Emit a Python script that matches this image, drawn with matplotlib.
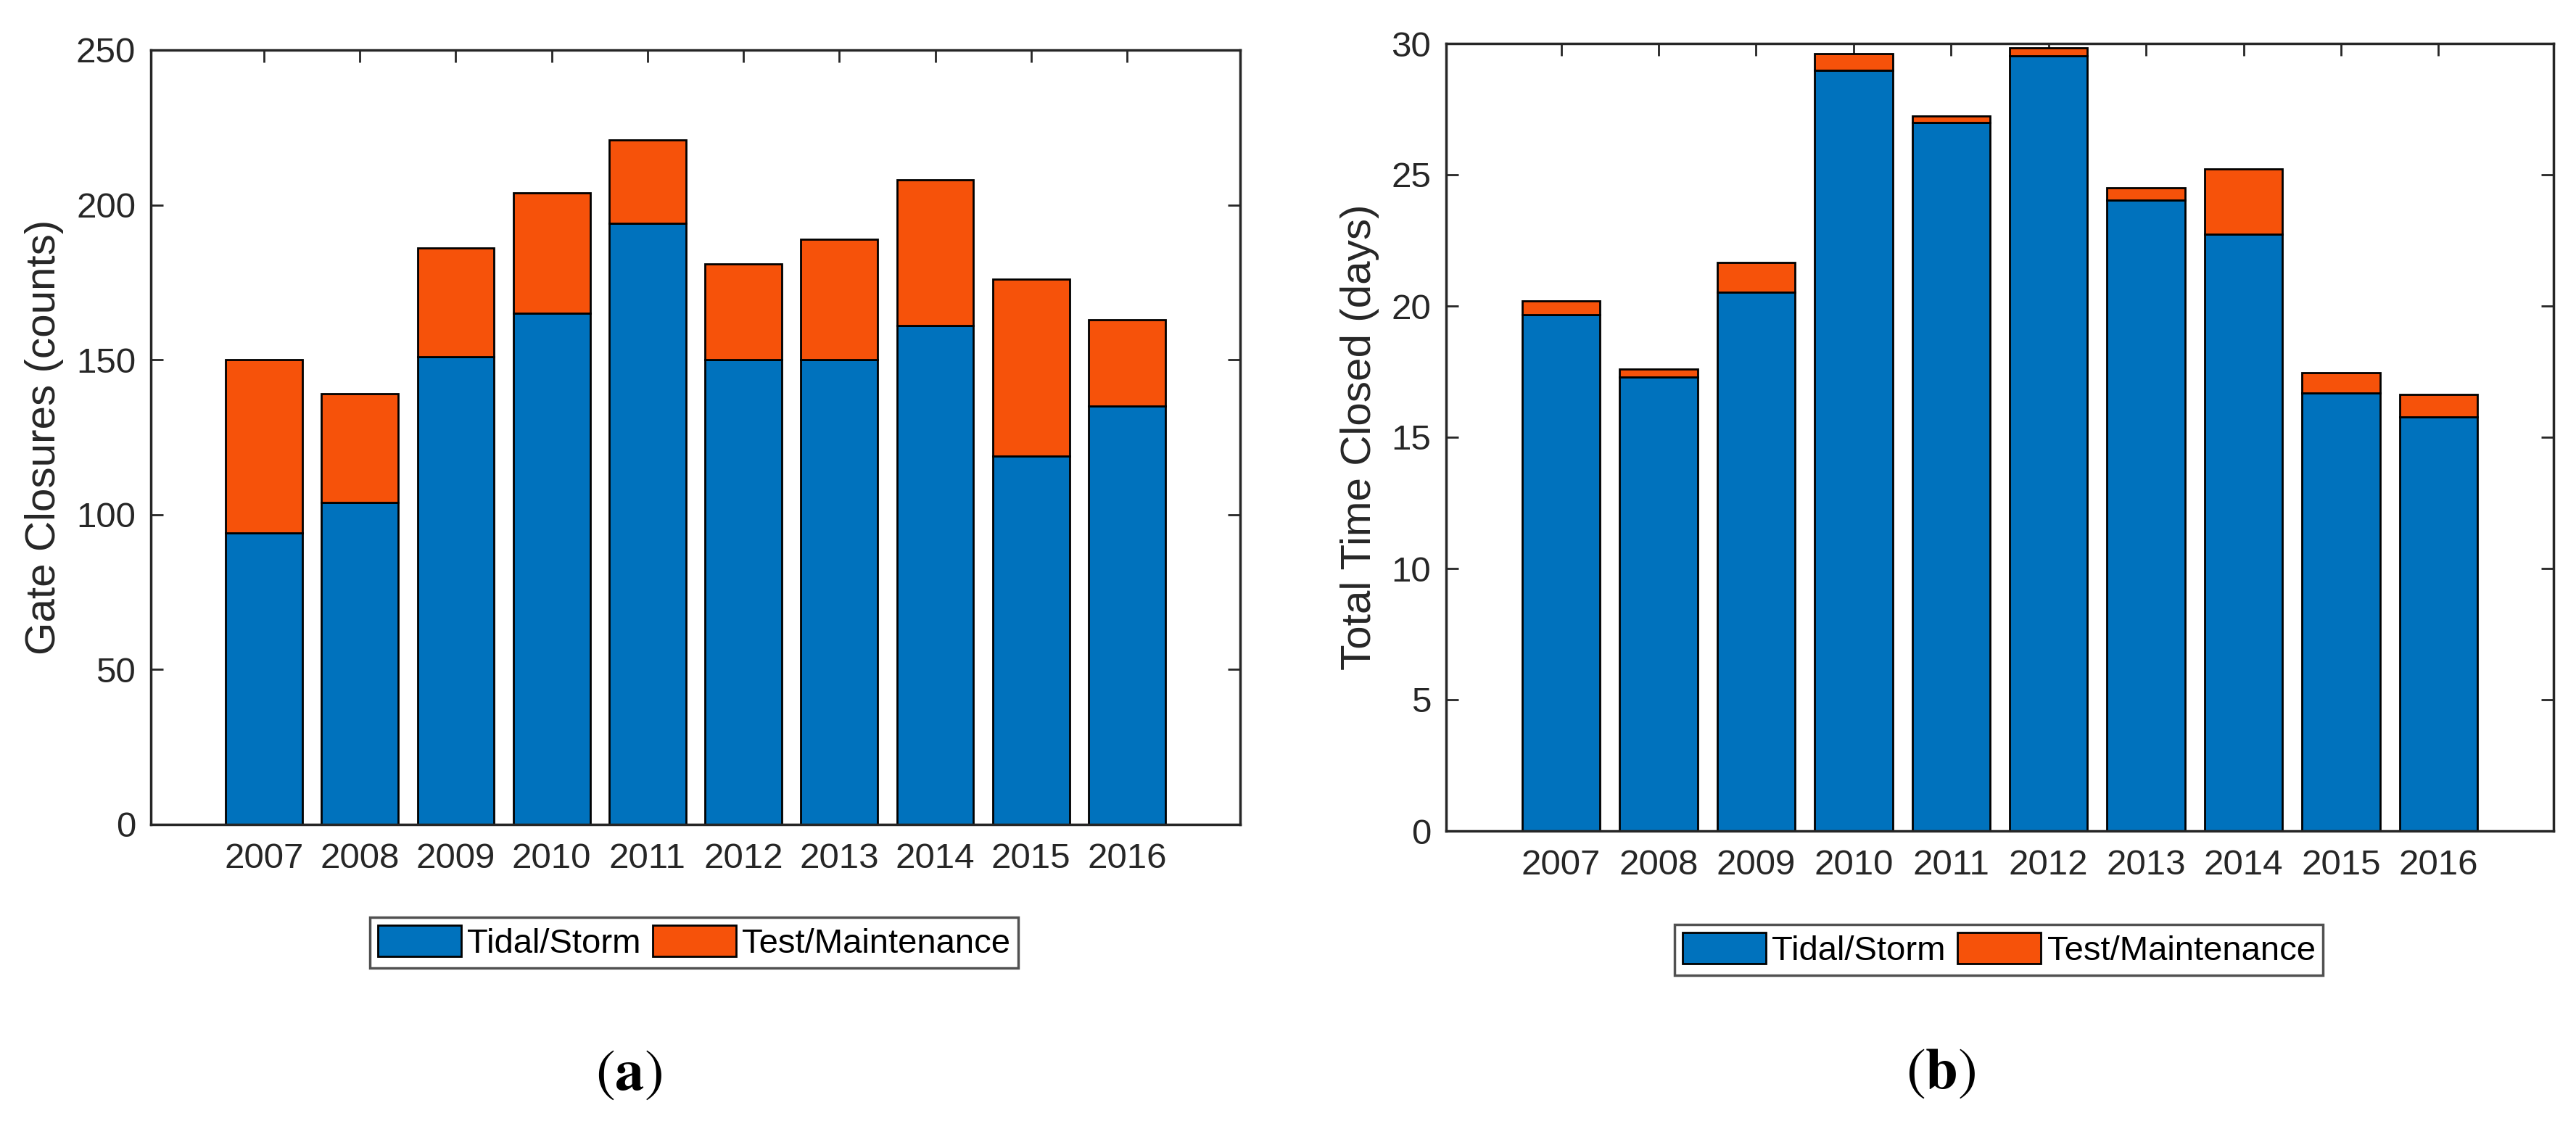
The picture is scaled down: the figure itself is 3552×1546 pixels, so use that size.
import matplotlib
matplotlib.use("Agg")
import matplotlib.pyplot as plt
import numpy as np

years = [2007, 2008, 2009, 2010, 2011, 2012, 2013, 2014, 2015, 2016]
# (a) gate closures (counts)
closures_tidal = [94, 104, 151, 165, 194, 150, 150, 161, 119, 135]
closures_total = [150, 139, 186, 204, 221, 181, 189, 208, 176, 163]
# (b) total time closed (days)
days_tidal = [19.66, 17.29, 20.53, 28.99, 27.0, 29.53, 24.02, 22.74, 16.69, 15.76]
days_total = [20.2, 17.59, 21.65, 29.62, 27.24, 29.83, 24.49, 25.22, 17.45, 16.63]

series_labels = ["Tidal/Storm", "Test/Maintenance"]
blue = "#0072BD"
orange = "#F6520A"
txt = "#262626"

plt.rcParams['font.family'] = ['Liberation Sans', 'DejaVu Sans']
plt.rcParams['mathtext.fontset'] = 'stix'

W, H = 3552, 1546
fig = plt.figure(figsize=(W / 100, H / 100), dpi=100)

def panel(rect, tidal, total, yticks, ylabel, ylabel_x, leg_center, letter, letter_pos):
    ax = fig.add_axes(rect)
    tidal = np.array(tidal)
    other = np.array(total) - tidal
    b1 = ax.bar(years, tidal, width=0.8, color=blue, edgecolor='black', linewidth=2.0,
                label=series_labels[0], zorder=2)
    b2 = ax.bar(years, other, bottom=tidal, width=0.8, color=orange, edgecolor='black',
                linewidth=2.0, label=series_labels[1], zorder=2)
    ax.set_xlim(2005.82, 2017.18)
    ax.set_ylim(yticks[0], yticks[-1])
    ax.set_yticks(yticks)
    ax.set_xticks(years)
    ax.set_xticklabels([str(y) for y in years])
    ax.tick_params(direction='in', length=12, width=2, colors=txt, labelsize=35.5,
                   top=True, right=True)
    ax.tick_params(axis='y', pad=15)
    ax.tick_params(axis='x', pad=18)
    for s in ax.spines.values():
        s.set_color(txt)
        s.set_linewidth(2.5)
        s.set_zorder(3)
    ax.set_ylabel(ylabel, fontsize=42, color=txt)
    ax.yaxis.set_label_coords(ylabel_x, 0.5)
    leg = fig.legend(handles=[b1, b2], labels=series_labels, loc='center',
                     bbox_to_anchor=(leg_center[0] / W, 1 - leg_center[1] / H),
                     bbox_transform=fig.transFigure, ncol=2, fontsize=34,
                     frameon=True, fancybox=False, shadow=False, edgecolor=txt,
                     handlelength=2.44, handleheight=1.0, handletextpad=0.17,
                     columnspacing=0.36, borderpad=0.23, borderaxespad=0)
    leg.get_frame().set_linewidth(2.5)
    for t in leg.get_texts():
        t.set_color('black')
    fig.text(letter_pos[0] / W, 1 - letter_pos[1] / H, letter, ha='center', va='center',
             fontsize=58, color='black')
    return ax

panel([208 / W, 1 - 1137 / H, (1710 - 208) / W, (1137 - 69) / H],
      closures_tidal, closures_total, [0, 50, 100, 150, 200, 250],
      "Gate Closures (counts)", -0.08, (957, 1300), r'$(\mathbf{a})$', (867, 1482))

panel([1994 / W, 1 - 1146 / H, (3521 - 1994) / W, (1146 - 60) / H],
      days_tidal, days_total, [0, 5, 10, 15, 20, 25, 30],
      "Total Time Closed (days)", -0.06, (2756, 1310), r'$(\mathbf{b})$', (2676, 1480))

fig.savefig("out.png", dpi=100, facecolor='white')
